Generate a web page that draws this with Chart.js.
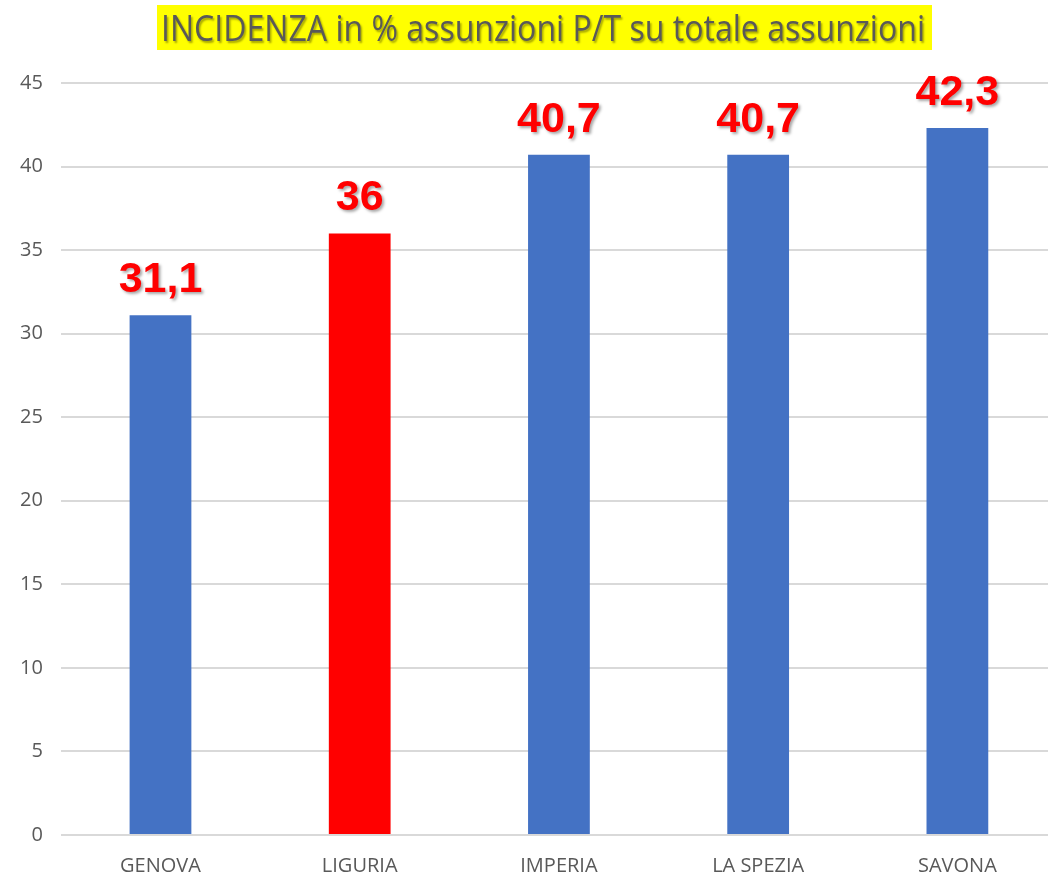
<!DOCTYPE html>
<html><head><meta charset="utf-8">
<script src="https://cdn.jsdelivr.net/npm/chart.js@4/dist/chart.umd.min.js"></script>
<style>html,body{margin:0;padding:0;background:#fff;overflow:hidden}#wrap{width:1060px;height:877px;position:relative}</style>
</head><body><div id="wrap"><canvas id="c"></canvas></div>
<script>
const categories = ["GENOVA","LIGURIA","IMPERIA","LA SPEZIA","SAVONA"];
const values = [31.1, 36, 40.7, 40.7, 42.3];
const valueLabels = ["31,1","36","40,7","40,7","42,3"];
const barColors = ["#4472C4","#FF0000","#4472C4","#4472C4","#4472C4"];
const yTicks = [0,5,10,15,20,25,30,35,40,45];
const titleText = "INCIDENZA in % assunzioni P/T su totale assunzioni";

const titlePlugin = {
  id:'hlTitle',
  afterDraw(chart){
    const ctx = chart.ctx;
    ctx.save();
    ctx.fillStyle = '#FFFF00';
    ctx.fillRect(157,5,775,45);
    ctx.font = '36px "Open Sans"';
    const w = ctx.measureText(titleText).width;
    const target = 764;
    ctx.translate(161, 41);
    ctx.scale(target/w, 1);
    ctx.textBaseline = 'alphabetic';
    ctx.shadowColor = 'rgba(0,0,0,0.35)';
    ctx.shadowOffsetX = 1.5; ctx.shadowOffsetY = 1.5; ctx.shadowBlur = 2;
    ctx.fillStyle = '#595959';
    ctx.fillText(titleText, 0, 0);
    ctx.restore();
  }
};
const labelPlugin = {
  id:'valLabels',
  afterDatasetsDraw(chart){
    const ctx = chart.ctx;
    const meta = chart.getDatasetMeta(0);
    ctx.save();
    ctx.font = 'bold 43px "Liberation Sans"';
    ctx.textAlign = 'center';
    ctx.textBaseline = 'alphabetic';
    ctx.fillStyle = '#FF0000';
    ctx.shadowColor = 'rgba(0,0,0,0.35)';
    ctx.shadowOffsetX = 2; ctx.shadowOffsetY = 2; ctx.shadowBlur = 3;
    meta.data.forEach((bar,i)=>{
      ctx.fillText(valueLabels[i], bar.x, bar.y - 23);
    });
    ctx.restore();
  }
};

new Chart(document.getElementById('c'), {
  type:'bar',
  data:{labels:categories, datasets:[{data:values, backgroundColor:barColors, barPercentage:0.31, categoryPercentage:1.0}]},
  options:{
    responsive:true, maintainAspectRatio:false, animation:false,
    layout:{padding:{top:83, left:2, right:3, bottom:-20}},
    plugins:{legend:{display:false}, title:{display:false}, tooltip:{enabled:false}},
    scales:{
      x:{grid:{display:false, drawTicks:false}, border:{display:false},
         ticks:{color:'#595959', font:{family:'"Open Sans"', size:20}, padding:19}},
      y:{min:0, max:45, afterBuildTicks(ax){ax.ticks = yTicks.map(v=>({value:v}));},
         grid:{color:'#D9D9D9', lineWidth:2, drawTicks:false}, border:{display:false},
         ticks:{color:'#595959', font:{family:'"Open Sans"', size:20}, padding:18}}
    }
  },
  plugins:[titlePlugin, labelPlugin]
});
</script></body></html>
